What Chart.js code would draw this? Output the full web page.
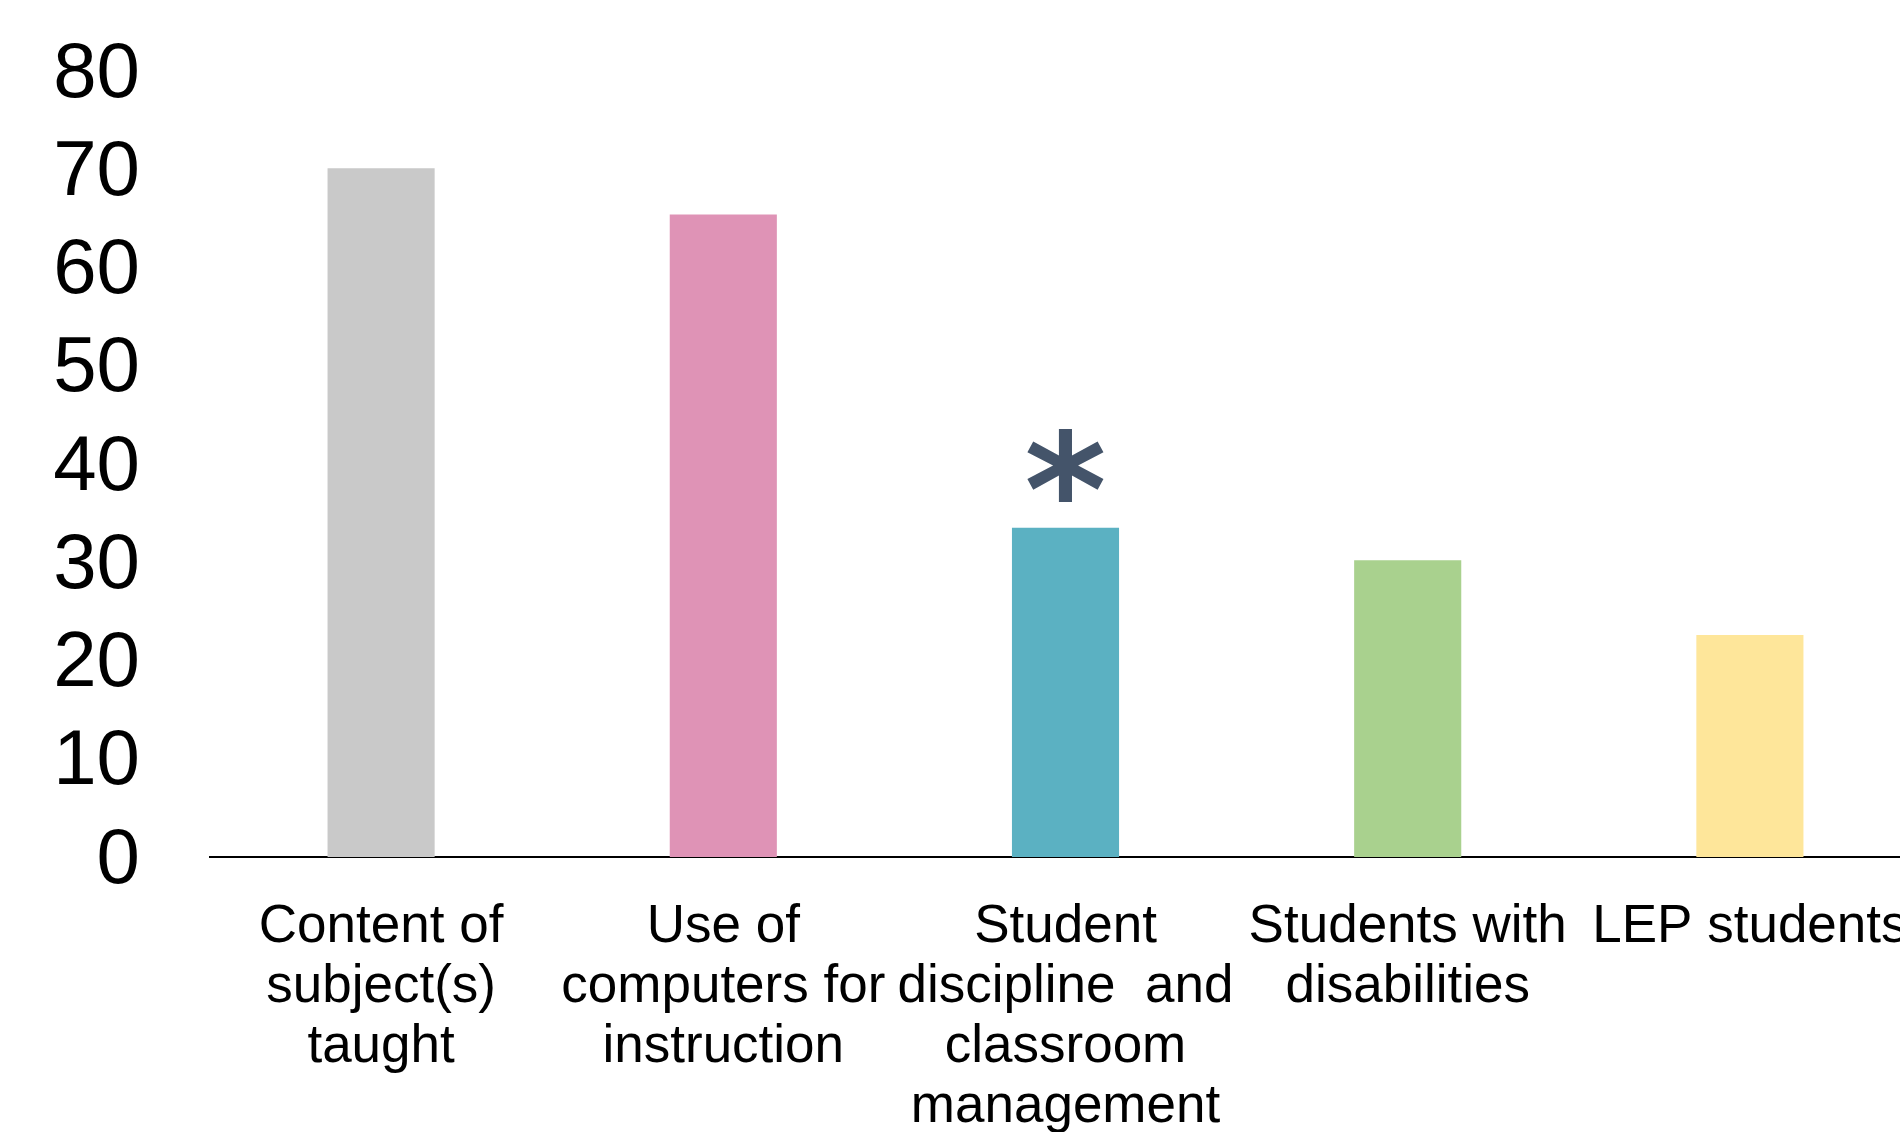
<!DOCTYPE html>
<html>
<head>
<meta charset="utf-8">
<script src="https://cdn.jsdelivr.net/npm/chart.js@4.4.1/dist/chart.umd.min.js"></script>
<style>
  html, body { margin: 0; padding: 0; background: #fff; overflow: hidden; }
  #wrap { width: 1921px; height: 1132px; }
</style>
</head>
<body>
<div id="wrap"><canvas id="chart" width="1921" height="1132"></canvas></div>
<script>
// data
const categories = [
  ["Content of", "subject(s)", "taught"],
  ["Use of", "computers for", "instruction"],
  ["Student", "discipline  and", "classroom", "management"],
  ["Students with", "disabilities"],
  ["LEP students"]
];
const values = [70.1, 65.4, 33.5, 30.2, 22.6];
const barColors = ["#C9C9C9", "#DF93B6", "#5BB1C2", "#A9D18E", "#FEE69A"];
const starred = [2];   // bars marked with an asterisk
const yTicks = [0, 10, 20, 30, 40, 50, 60, 70, 80];

const FONT = "'Liberation Sans', Arial, sans-serif";

// draws the * above the marked bars
const starPlugin = {
  id: "star",
  afterDatasetsDraw(chart) {
    const ctx = chart.ctx;
    const meta = chart.getDatasetMeta(0);
    ctx.save();
    ctx.fillStyle = "#44546A";
    ctx.textAlign = "center";
    ctx.textBaseline = "alphabetic";
    // scale the glyph so it is about 74px tall
    ctx.font = "bold 100px 'DejaVu Sans'";
    let m = ctx.measureText("*");
    let h = m.actualBoundingBoxAscent + m.actualBoundingBoxDescent;
    let size = 100 * 74 / h;
    ctx.font = "bold " + size + "px 'DejaVu Sans'";
    m = ctx.measureText("*");
    starred.forEach(i => {
      const bar = meta.data[i];
      // bottom of glyph 26px above bar top
      const base = bar.y - 26 - m.actualBoundingBoxDescent;
      ctx.fillText("*", bar.x, base);
    });
    ctx.restore();
  }
};

new Chart(document.getElementById("chart"), {
  type: "bar",
  data: {
    labels: categories,
    datasets: [{
      data: values,
      backgroundColor: barColors,
      borderWidth: 0,
      categoryPercentage: 1,
      barPercentage: 0.313
    }]
  },
  options: {
    responsive: false,
    animation: false,
    devicePixelRatio: 1,
    layout: { padding: { top: 71, left: 0, right: 0, bottom: 0 } },
    plugins: {
      legend: { display: false },
      tooltip: { enabled: false }
    },
    scales: {
      x: {
        grid: { display: false, drawTicks: false },
        border: { display: true, color: "#000", width: 2 },
        ticks: {
          color: "#000",
          font: { family: FONT, size: 53, lineHeight: 1.132 },
          padding: 40,
          maxRotation: 0,
          autoSkip: false
        },
        afterFit(scale) {
          scale.height = 1132 - 857;
          // last label is allowed to run off the edge, like the original
          scale.paddingLeft = 0;
          scale.paddingRight = 0;
        }
      },
      y: {
        min: 0,
        max: 80,
        afterBuildTicks(scale) { scale.ticks = yTicks.map(v => ({ value: v })); },
        grid: { display: false, drawTicks: false },
        border: { display: false },
        ticks: {
          color: "#000",
          font: { family: FONT, size: 78 },
          padding: 70,
          labelOffset: 4,
          autoSkip: false
        },
        afterFit(scale) {
          scale.width = 210;
          scale.paddingTop = 0;
          scale.paddingBottom = 0;
        }
      }
    }
  },
  plugins: [starPlugin]
});
</script>
</body>
</html>
